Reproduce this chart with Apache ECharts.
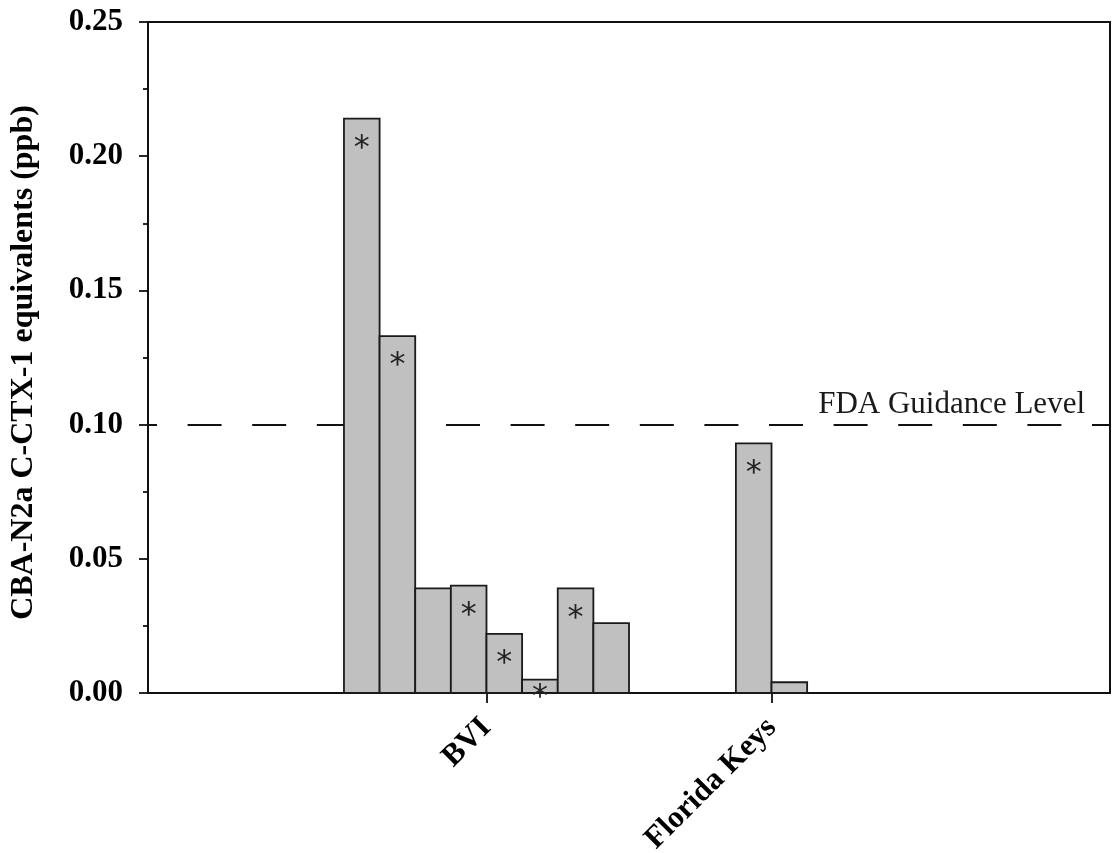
<!DOCTYPE html>
<html>
<head>
<meta charset="utf-8">
<script src="https://cdn.jsdelivr.net/npm/echarts@6/dist/echarts.min.js"></script>
<style>
html,body{margin:0;padding:0;background:#fff;}
#chart{width:1115px;height:853px;}
</style>
</head>
<body>
<div id="chart"></div>
<script>
// ---- data ----
const groups = ['BVI', 'Florida Keys'];
const bviValues = [0.214, 0.133, 0.039, 0.040, 0.022, 0.005, 0.039, 0.026];
const bviStar   = [1, 1, 0, 1, 1, 1, 1, 0];
const fkValues  = [0.093, 0.004];
const fkStar    = [1, 0];
const guidanceLevel = 0.10;
const guidanceLabel = 'FDA Guidance Level';
const yTicks = ['0.00', '0.05', '0.10', '0.15', '0.20', '0.25'];
const yTitle = 'CBA-N2a C-CTX-1 equivalents (ppb)';

// ---- layout (slot units along x) ----
const leadSlots = 6, gapSlots = 3, trailSlots = 8;
const groupValues = [bviValues, fkValues];
const groupStars = [bviStar, fkStar];
const barData = [];
const groupCenters = [];
let pos = 0;
groupValues.forEach((vals, g) => {
  const start = pos;
  vals.forEach((v, i) => { barData.push([pos, v, groupStars[g][i]]); pos++; });
  groupCenters.push((start + pos - 1) / 2);
  pos += gapSlots;
});
const xMin = -leadSlots;
const xMax = pos - gapSlots - 1 + trailSlots + 1;

const serif = '"Liberation Serif", "Times New Roman", serif';

const chart = echarts.init(document.getElementById('chart'), null, {renderer: 'canvas'});
chart.setOption({
  animation: false,
  backgroundColor: '#fff',
  grid: {left: 148, right: 5, top: 22, bottom: 160, containLabel: false, outerBoundsMode: 'none',
         show: true, borderColor: '#111', borderWidth: 2, backgroundColor: 'transparent'},
  xAxis: {
    type: 'value', min: xMin, max: xMax,
    splitLine: {show: false},
    axisLine: {show: true, onZero: false, lineStyle: {color: '#111', width: 2}},
    axisTick: {show: true, customValues: groupCenters, length: 10, lineStyle: {color: '#111', width: 1.8}},
    axisLabel: {
      show: true, customValues: groupCenters, rotate: 45, margin: 30,
      formatter: function (v) { const i = groupCenters.indexOf(v); return i >= 0 ? groups[i] : ''; },
      fontFamily: serif, fontWeight: 'bold', fontSize: 31, color: '#000'
    }
  },
  yAxis: {
    type: 'value', min: 0, max: 0.25, interval: 0.05,
    name: yTitle, nameLocation: 'middle', nameGap: 108, nameRotate: 90,
    nameTextStyle: {fontFamily: serif, fontWeight: 'bold', fontSize: 32, color: '#000', padding: [0, 10, 0, 0]},
    splitLine: {show: false},
    axisLine: {show: true, onZero: false, lineStyle: {color: '#111', width: 2}},
    axisTick: {show: true, length: 9, lineStyle: {color: '#111', width: 1.8}},
    minorTick: {show: true, splitNumber: 2, length: 5, lineStyle: {color: '#111', width: 1.8}},
    axisLabel: {
      margin: 25,
      formatter: function (v) { return yTicks[Math.round(v / 0.05)]; },
      fontFamily: serif, fontWeight: 'bold', fontSize: 31, color: '#000'
    }
  },
  series: [
    {
      type: 'line', data: [], z: 1, silent: true,
      markLine: {
        silent: true, symbol: ['none', 'none'], z: 1,
        lineStyle: {color: '#111', width: 1.8, type: [34, 30.6], dashOffset: 25},
        label: {
          show: true, position: 'insideEndTop', formatter: guidanceLabel, distance: [25, 4],
          fontFamily: serif, fontSize: 31, color: '#1a1a1a'
        },
        data: [{yAxis: guidanceLevel}]
      }
    },
    {
      type: 'custom', z: 10, data: barData,
      encode: {x: 0, y: 1},
      renderItem: function (params, api) {
        const x = api.value(0), y = api.value(1), star = api.value(2);
        const p0 = api.coord([x - 0.5, y]);
        const p1 = api.coord([x + 0.5, 0]);
        const h = p1[1] - p0[1];
        const children = [{
          type: 'rect',
          shape: {x: p0[0], y: p0[1], width: p1[0] - p0[0], height: h},
          style: {fill: '#c0c0c0', stroke: '#1a1a1a', lineWidth: 1.8}
        }];
        if (star) {
          const off = Math.min(22, h - 3);
          children.push({
            type: 'text',
            style: {
              text: '*', x: (p0[0] + p1[0]) / 2, y: p0[1] + off + 8,
              align: 'center', verticalAlign: 'middle',
              fontFamily: '"DejaVu Sans", sans-serif', fontSize: 32, fill: '#222'
            }
          });
        }
        return {type: 'group', children: children};
      }
    }
  ]
});
</script>
</body>
</html>
